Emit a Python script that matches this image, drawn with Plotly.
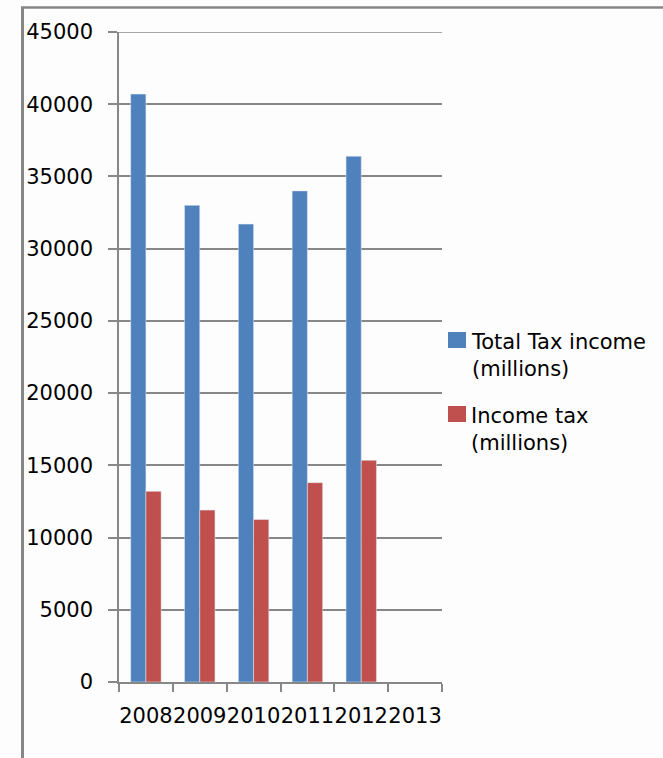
import plotly.graph_objects as go

# Data
years = ["2008", "2009", "2010", "2011", "2012", "2013"]
total_tax = [40700, 33000, 31700, 34000, 36400, None]
income_tax = [13200, 11900, 11250, 13800, 15350, None]
series_names = ["Total Tax income<br>(millions)", "Income tax<br>(millions)"]
y_ticks = [0, 5000, 10000, 15000, 20000, 25000, 30000, 35000, 40000, 45000]

BLUE = "#4f81bd"
RED = "#c0504d"
GRAY = "#878787"
FONT = "DejaVu Sans"

W, H = 663, 758
L, R, T, B = 119, 221, 32, 76
PW, PH = W - L - R, H - T - B


def px(x):
    return (x - L) / PW


def py(y):
    return (H - B - y) / PH


fig = go.Figure()
fig.add_trace(go.Bar(x=years, y=total_tax, name=series_names[0], marker_color=BLUE))
fig.add_trace(go.Bar(x=years, y=income_tax, name=series_names[1], marker_color=RED))

shapes = []
annotations = []
# legend: colour squares and two-line labels
legend_rows = [(332, 355.5), (406, 429.5)]
for (sq_top, txt_mid), name, color in zip(legend_rows, series_names, [BLUE, RED]):
    shapes.append(dict(type="rect", xref="paper", yref="paper",
                       x0=px(448), x1=px(466), y0=py(sq_top + 16), y1=py(sq_top),
                       fillcolor=color, line=dict(width=0)))
    annotations.append(dict(xref="paper", yref="paper", x=px(469), y=py(txt_mid),
                            xanchor="left", yanchor="middle", align="left",
                            text=name, showarrow=False,
                            font=dict(family=FONT, size=21, color="black")))

# gridline at the top of the value range (plotly clips grid at the edge)
shapes.append(dict(type="line", xref="paper", yref="y", layer="below",
                   x0=0, x1=1, y0=y_ticks[-1], y1=y_ticks[-1],
                   line=dict(color=GRAY, width=1.5)))

# outer frame lines (left and top)
shapes.append(dict(type="line", xref="paper", yref="paper",
                   x0=px(22.5), x1=px(22.5), y0=py(7.5), y1=py(760),
                   line=dict(color=GRAY, width=3)))
shapes.append(dict(type="line", xref="paper", yref="paper",
                   x0=px(21), x1=px(665), y0=py(7.5), y1=py(7.5),
                   line=dict(color=GRAY, width=2.5)))

fig.update_layout(
    width=W, height=H,
    margin=dict(l=L, r=R, t=T, b=B),
    paper_bgcolor="#fdfdfd", plot_bgcolor="#fdfdfd",
    barmode="group", bargap=0.434, bargroupgap=0,
    showlegend=False,
    font=dict(family=FONT, size=21, color="black"),
    shapes=shapes, annotations=annotations,
)
fig.update_xaxes(type="category", tickson="boundaries", ticks="outside",
                 ticklen=8, tickwidth=1.5, tickcolor=GRAY, tickangle=0,
                 showline=True, linecolor=GRAY, linewidth=1.5,
                 showgrid=False, ticklabelstandoff=14,
                 tickfont=dict(family=FONT, size=21, color="black"))
fig.update_yaxes(range=[0, 45000], tickvals=y_ticks, ticktext=[str(v) for v in y_ticks],
                 ticks="outside", ticklen=9, tickwidth=1.5, tickcolor=GRAY,
                 showline=True, linecolor=GRAY, linewidth=1.5,
                 showgrid=True, gridcolor=GRAY, gridwidth=1.5, zeroline=False,
                 ticklabelstandoff=11,
                 tickfont=dict(family=FONT, size=21, color="black"))

fig.write_html("out.html")
